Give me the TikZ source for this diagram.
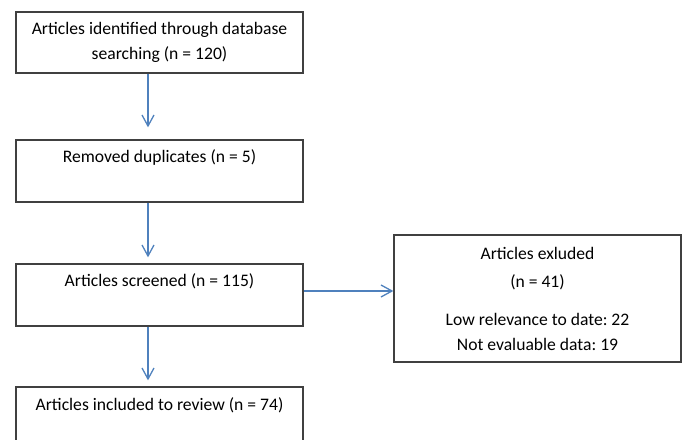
\documentclass[tikz,border=0pt]{standalone}
\usepackage{fontspec}
\setmainfont{Carlito}
\frenchspacing
\usetikzlibrary{arrows.meta}
\definecolor{boxgray}{RGB}{64,64,64}
\definecolor{arrowblue}{RGB}{79,129,189}
\begin{document}
\begin{tikzpicture}[
  x = 1bp, y = -1bp,
  every node/.style = {font=\fontsize{17.6bp}{25bp}\selectfont},
  box/.style = {draw=boxgray, line width=1.3bp, rectangle, align=center,
                inner sep=0pt, minimum width=287bp},
  topbox/.style = {box, text height=23bp, text depth=39bp},
  go/.style = {-{Straight Barb[length=11bp, width=12bp, line width=1.3bp]},
               draw=arrowblue, line width=1.5bp},
]
\clip (0,0) rectangle (686,440);

% --- Main column ----------------------------------------------------------
\node[box, minimum height=61bp] (ident) at (159.5,42.5)
  {Articles identified through database\\ searching (n = 120)};
\node[topbox] (dup)  at (159.5,171) {Removed duplicates (n = 5)};
\node[topbox] (scr)  at (159.5,295) {Articles screened (n = 115)};
\node[topbox] (incl) at (159.5,418) {Articles included to review (n = 74)};

\draw[go] ([xshift=-11.5bp]ident.south) -- ([xshift=-11.5bp, yshift=12bp]dup.north);
\draw[go] ([xshift=-11.5bp]dup.south)   -- ([xshift=-11.5bp, yshift=6bp]scr.north);
\draw[go] ([xshift=-11.5bp]scr.south)   -- ([xshift=-11.5bp, yshift=6bp]incl.north);

% --- Exclusions -----------------------------------------------------------
\node[box, minimum height=127bp] (excl) at (537.5,298.5)
  {Articles exluded\\[3bp] (n = 41)\\[13bp] Low relevance to date: 22\\ Not evaluable data: 19};
\draw[go] ([yshift=4bp]scr.east) -- ([yshift=4bp]scr.east -| excl.west);

\end{tikzpicture}
\end{document}
